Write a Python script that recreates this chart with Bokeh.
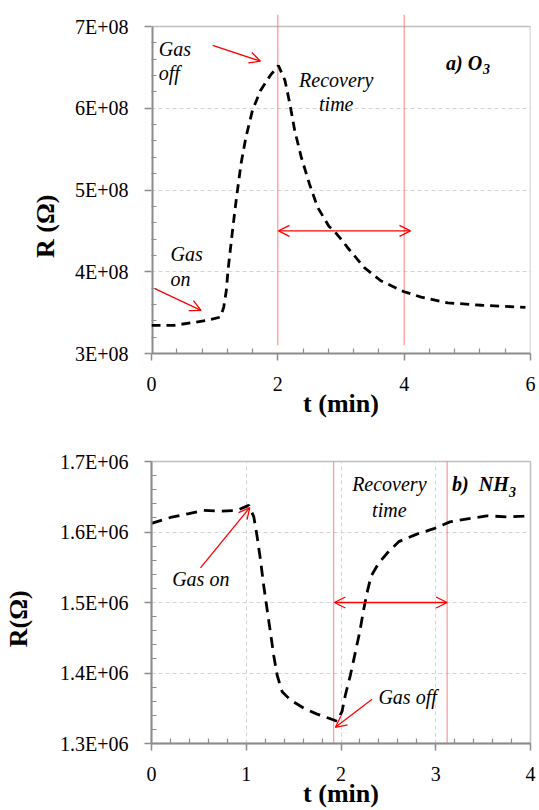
from bokeh.plotting import figure
from bokeh.models import Range1d, FixedTicker, Arrow, OpenHead
from bokeh.layouts import column
from bokeh.core.properties import value
from bokeh.embed import file_html
from bokeh.resources import INLINE

FONT = "Liberation Serif"

# ---------------- data: a) O3 ----------------
o3_t = [0.0, 0.36, 0.655, 0.928, 1.093, 1.144, 1.185, 1.211, 1.247, 1.289, 1.34,
        1.417, 1.495, 1.598, 1.726, 1.881, 2.009, 2.113, 2.19, 2.267, 2.371,
        2.499, 2.628, 2.808, 2.89, 3.0, 3.1, 3.37, 3.63, 4.0, 4.27, 4.69, 5.23, 5.92]
o3_r = [3.345e8, 3.345e8, 3.378e8, 3.414e8, 3.446e8, 3.568e8, 3.773e8, 4.017e8,
        4.262e8, 4.547e8, 4.873e8, 5.321e8, 5.647e8, 5.973e8, 6.218e8, 6.401e8,
        6.523e8, 6.34e8, 6.055e8, 5.729e8, 5.402e8, 5.077e8, 4.791e8, 4.557e8,
        4.5e8, 4.4e8, 4.3e8, 4.05e8, 3.89e8, 3.755e8, 3.69e8, 3.62e8, 3.59e8, 3.565e8]
o3_xticks = [0, 2, 4, 6]
o3_yticks = [300000000, 400000000, 500000000, 600000000, 700000000]
o3_ylabels = ["3E+08", "4E+08", "5E+08", "6E+08", "7E+08"]
o3_marks = [2.0, 4.0]          # red vertical lines (recovery window)

# ---------------- data: b) NH3 ----------------
nh3_t = [0.0, 0.2, 0.394, 0.552, 0.728, 0.904, 1.027, 1.08, 1.115, 1.15, 1.185,
         1.22, 1.255, 1.29, 1.326, 1.379, 1.466, 1.607, 1.748, 1.888, 1.959,
         2.011, 2.046, 2.099, 2.152, 2.197, 2.24, 2.275, 2.317, 2.398, 2.503,
         2.609, 2.80, 2.98, 3.15, 3.35, 3.54, 3.75, 3.93, 4.0]
nh3_r = [1.6122e6, 1.6206e6, 1.6262e6, 1.6308e6, 1.6294e6, 1.6308e6, 1.6378e6,
         1.6214e6, 1.5933e6, 1.5606e6, 1.5232e6, 1.4905e6, 1.4578e6, 1.4249e6,
         1.3968e6, 1.3735e6, 1.3618e6, 1.3501e6, 1.3417e6, 1.3351e6, 1.3314e6,
         1.3455e6, 1.3688e6, 1.3968e6, 1.4297e6, 1.4578e6, 1.4905e6, 1.5139e6,
         1.5372e6, 1.556e6, 1.5723e6, 1.5863e6, 1.597e6, 1.6047e6, 1.6144e6,
         1.619e6, 1.623e6, 1.6214e6, 1.6226e6, 1.6238e6]
nh3_xticks = [0, 1, 2, 3, 4]
nh3_yticks = [1300000, 1400000, 1500000, 1600000, 1700000]
nh3_ylabels = ["1.3E+06", "1.4E+06", "1.5E+06", "1.6E+06", "1.7E+06"]
nh3_marks = [1.923, 3.12]

NB = "\u00a0"
AXC = "#8c8c8c"
FRC = "#bfbfbf"


def style(p, xticks, xminor, yticks, yminor, ylabels, xgrid):
    p.background_fill_color = "white"
    p.border_fill_color = "white"
    p.xaxis.ticker = FixedTicker(ticks=xticks, minor_ticks=xminor)
    p.yaxis.ticker = FixedTicker(ticks=yticks, minor_ticks=yminor)
    p.yaxis.major_label_overrides = dict(zip(yticks, ylabels))
    for ax in (p.xaxis[0], p.yaxis[0]):
        ax.axis_line_color = AXC
        ax.axis_line_width = 2
        ax.major_tick_line_color = AXC
        ax.major_tick_line_width = 1.5
        ax.minor_tick_line_color = AXC
        ax.minor_tick_line_width = 1.2
        ax.major_tick_in = 0
        ax.major_tick_out = 7
        ax.minor_tick_in = 5
        ax.minor_tick_out = 0
        ax.major_label_text_font = FONT
        ax.major_label_text_font_size = "20px"
        ax.major_label_text_color = "black"
        ax.axis_label_text_font = FONT
        ax.axis_label_text_font_size = "26px"
        ax.axis_label_text_font_style = "bold"
        ax.axis_label_text_color = "black"
    p.xaxis.major_label_standoff = 16
    p.yaxis.major_label_standoff = 16
    p.xaxis.axis_label_standoff = -5
    p.ygrid.grid_line_color = "#d4d4d4"
    p.ygrid.grid_line_dash = "4 3"
    p.ygrid.grid_line_width = 1
    if xgrid:
        p.xgrid.grid_line_color = "#d4d4d4"
        p.xgrid.grid_line_dash = "4 3"
        p.xgrid.grid_line_width = 1
    else:
        p.xgrid.visible = False


def red_arrow(p, x0, y0, x1, y1, double=False):
    p.add_layout(Arrow(
        end=OpenHead(size=11, line_color="red", line_width=1.3),
        start=OpenHead(size=11, line_color="red", line_width=1.3) if double else None,
        x_start=x0, y_start=y0, x_end=x1, y_end=y1,
        line_color="red", line_width=1.3))


def red_mark(p, x, y0, y1):
    p.segment(x0=[x], y0=[y0], x1=[x], y1=[y1],
              line_color="#ff6a6a", line_width=1, line_alpha=0.85)


def txt(p, xs, ys, texts, size="20px", style_="italic", align="left", dx=0, dy=0):
    p.text(x=xs, y=ys, text=texts, text_font=value(FONT), text_font_size=size,
           text_font_style=style_, text_align=align, text_baseline="middle",
           text_color="black", x_offset=dx, y_offset=dy)


# ================= a) O3 =================
# the y range reaches a little above 7E+08 so the red markers can overshoot the box
p1 = figure(width=539, height=425, output_backend="svg", toolbar_location=None,
            x_range=Range1d(0, 6), y_range=Range1d(3e8, 7.147e8),
            min_border_left=143, min_border_right=7, min_border_top=14,
            min_border_bottom=72)
style(p1, o3_xticks, [0.4 * i for i in range(1, 15) if i % 5],
      o3_yticks, [3e8 + 2e7 * i for i in range(1, 20) if i % 5], o3_ylabels, False)
p1.outline_line_color = None
p1.yaxis.axis_line_color = None
p1.xaxis.axis_label = "t (min)"
p1.yaxis.axis_label = "R (Ω)" + NB * 13
p1.yaxis.axis_label_standoff = 12
# box of the chart: top and right in light grey, left axis line in darker grey
p1.segment(x0=[0, 6], y0=[7e8, 3e8], x1=[6, 6], y1=[7e8, 7e8],
           line_color=FRC, line_width=1.5)
p1.segment(x0=[0], y0=[3e8], x1=[0], y1=[7e8], line_color=AXC, line_width=4)

for m in o3_marks:
    red_mark(p1, m, 3.1e8, 7.147e8)
p1.line(o3_t, o3_r, line_color="black", line_width=2.8, line_dash="9 6")

txt(p1, [0.114, 0.114, 0.3, 0.3], [6.72e8, 6.43e8, 4.218e8, 3.91e8],
    ["Gas", "off", "Gas", "on"])
txt(p1, [2.925, 2.925], [6.348e8, 6.058e8], ["Recovery", "time"], align="center")
txt(p1, [4.663], [6.548e8], ["a) O"], style_="bold italic")
txt(p1, [4.663], [6.548e8], ["3"], size="14px", style_="bold italic", dx=37, dy=6)

red_arrow(p1, 0.969, 6.768e8, 1.726, 6.576e8)
red_arrow(p1, 0.052, 3.793e8, 0.784, 3.528e8)
red_arrow(p1, 2.01, 4.5e8, 4.1, 4.5e8, double=True)

# ================= b) NH3 =================
p2 = figure(width=539, height=385, output_backend="svg", toolbar_location=None,
            x_range=Range1d(0, 4), y_range=Range1d(1.3e6, 1.7e6),
            min_border_left=151, min_border_right=9, min_border_top=36,
            min_border_bottom=64)
style(p2, nh3_xticks, [0.2 * i for i in range(1, 20) if i % 5],
      nh3_yticks, [1.3e6 + 2e4 * i for i in range(1, 20) if i % 5], nh3_ylabels, True)
p2.outline_line_color = FRC
p2.outline_line_width = 1.5
p2.xaxis.axis_label = "t (min)"
p2.yaxis.axis_label = "R(Ω)" + NB * 5
p2.yaxis.axis_label_standoff = 24

for m in nh3_marks:
    red_mark(p2, m, 1.294e6, 1.7e6)
p2.line(nh3_t, nh3_r, line_color="black", line_width=2.8, line_dash="11 7")

txt(p2, [2.51, 2.51], [1.6683e6, 1.6318e6], ["Recovery", "time"], align="center")
txt(p2, [0.218], [1.534e6], ["Gas on"])
txt(p2, [2.395], [1.3653e6], ["Gas off"])
txt(p2, [3.172], [1.6687e6], ["b)" + NB + " NH"], style_="bold italic")
txt(p2, [3.172], [1.6687e6], ["3"], size="14px", style_="bold italic", dx=57, dy=8)

red_arrow(p2, 0.517, 1.549e6, 1.037, 1.6346e6)
red_arrow(p2, 2.328, 1.3627e6, 1.941, 1.323e6)
red_arrow(p2, 1.93, 1.5e6, 3.12, 1.5e6, double=True)

layout = column(p1, p2)
open("out.html", "w").write(file_html(layout, INLINE))
